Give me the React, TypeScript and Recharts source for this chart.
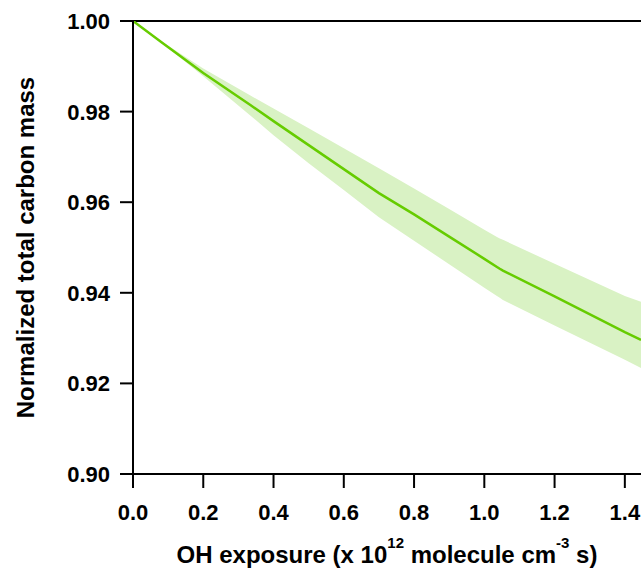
import { Area, ComposedChart, Line, ReferenceLine, XAxis, YAxis } from 'recharts';

// OH exposure (x 10^12 molecule cm^-3 s)
const exposure = [0, 0.085, 0.2, 0.333, 0.4, 0.5, 0.6, 0.7, 0.8, 0.9, 1.0, 1.036, 1.044, 1.053, 1.2, 1.4, 1.446];
const meanMass = [1.0, 0.9951, 0.9885, 0.9815, 0.9779, 0.9726, 0.9673, 0.962, 0.9573, 0.9524, 0.9475, 0.9457, 0.9453, 0.9449, 0.9392, 0.9313, 0.9296];
const upperMass = [1.0, 0.9953, 0.9895, 0.9836, 0.9807, 0.9763, 0.9719, 0.9675, 0.963, 0.9585, 0.9539, 0.9523, 0.952, 0.9517, 0.9464, 0.9393, 0.938];
const lowerMass = [1.0, 0.995, 0.9878, 0.9792, 0.9748, 0.9686, 0.9627, 0.9567, 0.9515, 0.9463, 0.9411, 0.9393, 0.9389, 0.9384, 0.9328, 0.9252, 0.9234];

const xTicks = [0, 0.2, 0.4, 0.6, 0.8, 1.0, 1.2, 1.4];
const yTicks = [0.9, 0.92, 0.94, 0.96, 0.98, 1.0];

const data = exposure.map((x, i) => ({
  x,
  mean: meanMass[i],
  band: [lowerMass[i], upperMass[i]],
}));

const FONT = '"Liberation Sans", Arial, sans-serif';

const XTick = ({ x, y, payload }: any) => (
  <text x={x} y={y + 30} textAnchor="middle" fontFamily={FONT} fontWeight="bold" fontSize={22} fill="#000">
    {payload.value.toFixed(1)}
  </text>
);

const YTick = ({ x, y, payload }: any) => (
  <text x={x - 8} y={y + 8} textAnchor="end" fontFamily={FONT} fontWeight="bold" fontSize={22} fill="#000">
    {payload.value.toFixed(2)}
  </text>
);

const XTitle = ({ viewBox }: any) => (
  <text
    x={viewBox.x + viewBox.width / 2}
    y={563}
    textAnchor="middle"
    fontFamily={FONT}
    fontWeight="bold"
    fontSize={24}
    fill="#000"
  >
    OH exposure (x 10
    <tspan fontSize={15} dy={-15}>12</tspan>
    <tspan dy={15}> molecule cm</tspan>
    <tspan fontSize={15} dy={-15}>-3</tspan>
    <tspan dy={15}> s)</tspan>
  </text>
);

const YTitle = ({ viewBox }: any) => {
  const cy = viewBox.y + viewBox.height / 2;
  return (
    <text
      x={34}
      y={cy}
      transform={`rotate(-90, 34, ${cy})`}
      textAnchor="middle"
      fontFamily={FONT}
      fontWeight="bold"
      fontSize={24}
      fill="#000"
    >
      Normalized total carbon mass
    </text>
  );
};

export default function App() {
  return (
    <div style={{ position: 'absolute', left: 0, top: 0, background: '#fff' }}>
      <ComposedChart width={641} height={570} data={data} margin={{ top: 21, right: 0, left: 0, bottom: 0 }}>
        <XAxis
          dataKey="x"
          type="number"
          domain={[0, 1.446]}
          allowDataOverflow
          ticks={xTicks}
          height={96}
          tickSize={14}
          stroke="#000"
          strokeWidth={2}
          tick={<XTick />}
          label={<XTitle />}
        />
        <YAxis
          type="number"
          domain={[0.9, 1.0]}
          allowDataOverflow
          ticks={yTicks}
          width={133}
          tickSize={13}
          stroke="#000"
          strokeWidth={2}
          tick={<YTick />}
          label={<YTitle />}
        />
        <ReferenceLine y={1.0} stroke="#000" strokeWidth={2} />
        <Area
          dataKey="band"
          type="linear"
          stroke="none"
          fill="#d9f2c4"
          fillOpacity={1}
          isAnimationActive={false}
        />
        <Line
          dataKey="mean"
          type="linear"
          stroke="#66cc00"
          strokeWidth={2.5}
          dot={false}
          activeDot={false}
          isAnimationActive={false}
        />
      </ComposedChart>
    </div>
  );
}
